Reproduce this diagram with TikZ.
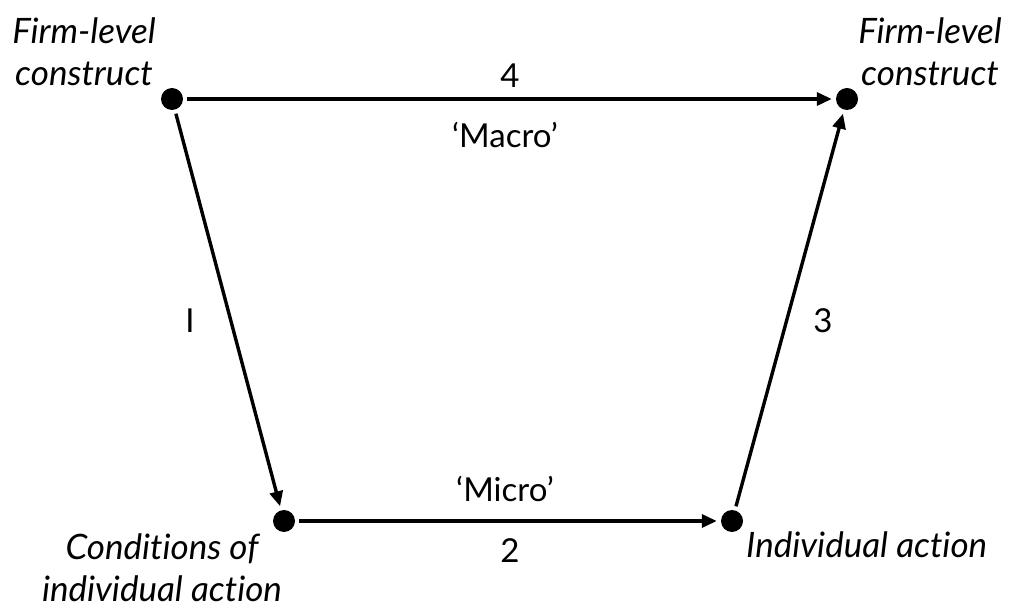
\documentclass[tikz,border=0pt]{standalone}
\usepackage{fontspec}
\setmainfont{Lato}[Ligatures={NoCommon,NoRequired,NoContextual,NoRare}]
\usetikzlibrary{arrows.meta}
\begin{document}
\begin{tikzpicture}[x=1pt,y=-1pt,
  dot/.style={circle,fill=black,inner sep=0pt,minimum size=22pt},
  conn/.style={line width=3.4pt,-{Triangle[length=15pt,width=13pt]},shorten >=4pt,shorten <=4pt},
  lbl/.style={font=\fontsize{35}{42}\selectfont\itshape,align=center,inner sep=0pt},
  num/.style={font=\fontsize{33}{40}\selectfont,inner sep=0pt}]
\useasboundingbox (0,0) rectangle (1010,609);
\node[dot] (tl) at (172,99) {};
\node[dot] (tr) at (847,99) {};
\node[dot] (bl) at (284,521) {};
\node[dot] (br) at (732,521) {};
\draw[conn] (tl) -- (tr);
\draw[conn] (tl) -- (bl);
\draw[conn] (bl) -- (br);
\draw[conn] (br) -- (tr);
\node[lbl] (t1) at (84,52) {Firm-level\\construct};
\node[lbl] (t2) at (930,52) {Firm-level\\construct};
\node[lbl] (t3) at (162,568) {Conditions of\\individual action};
\node[lbl,anchor=west] (t4) at (746,545) {Individual action};
\node[num] (n4) at (510,76) {4};
\node[num] (mac) at (505,135) {‘Macro’};
\node[num] (n1) at (190,321) {I};
\node[num] (n3) at (823,321) {3};
\node[num] (mic) at (505,489) {‘Micro’};
\node[num] (n2) at (510,551) {2};
\end{tikzpicture}
\end{document}
